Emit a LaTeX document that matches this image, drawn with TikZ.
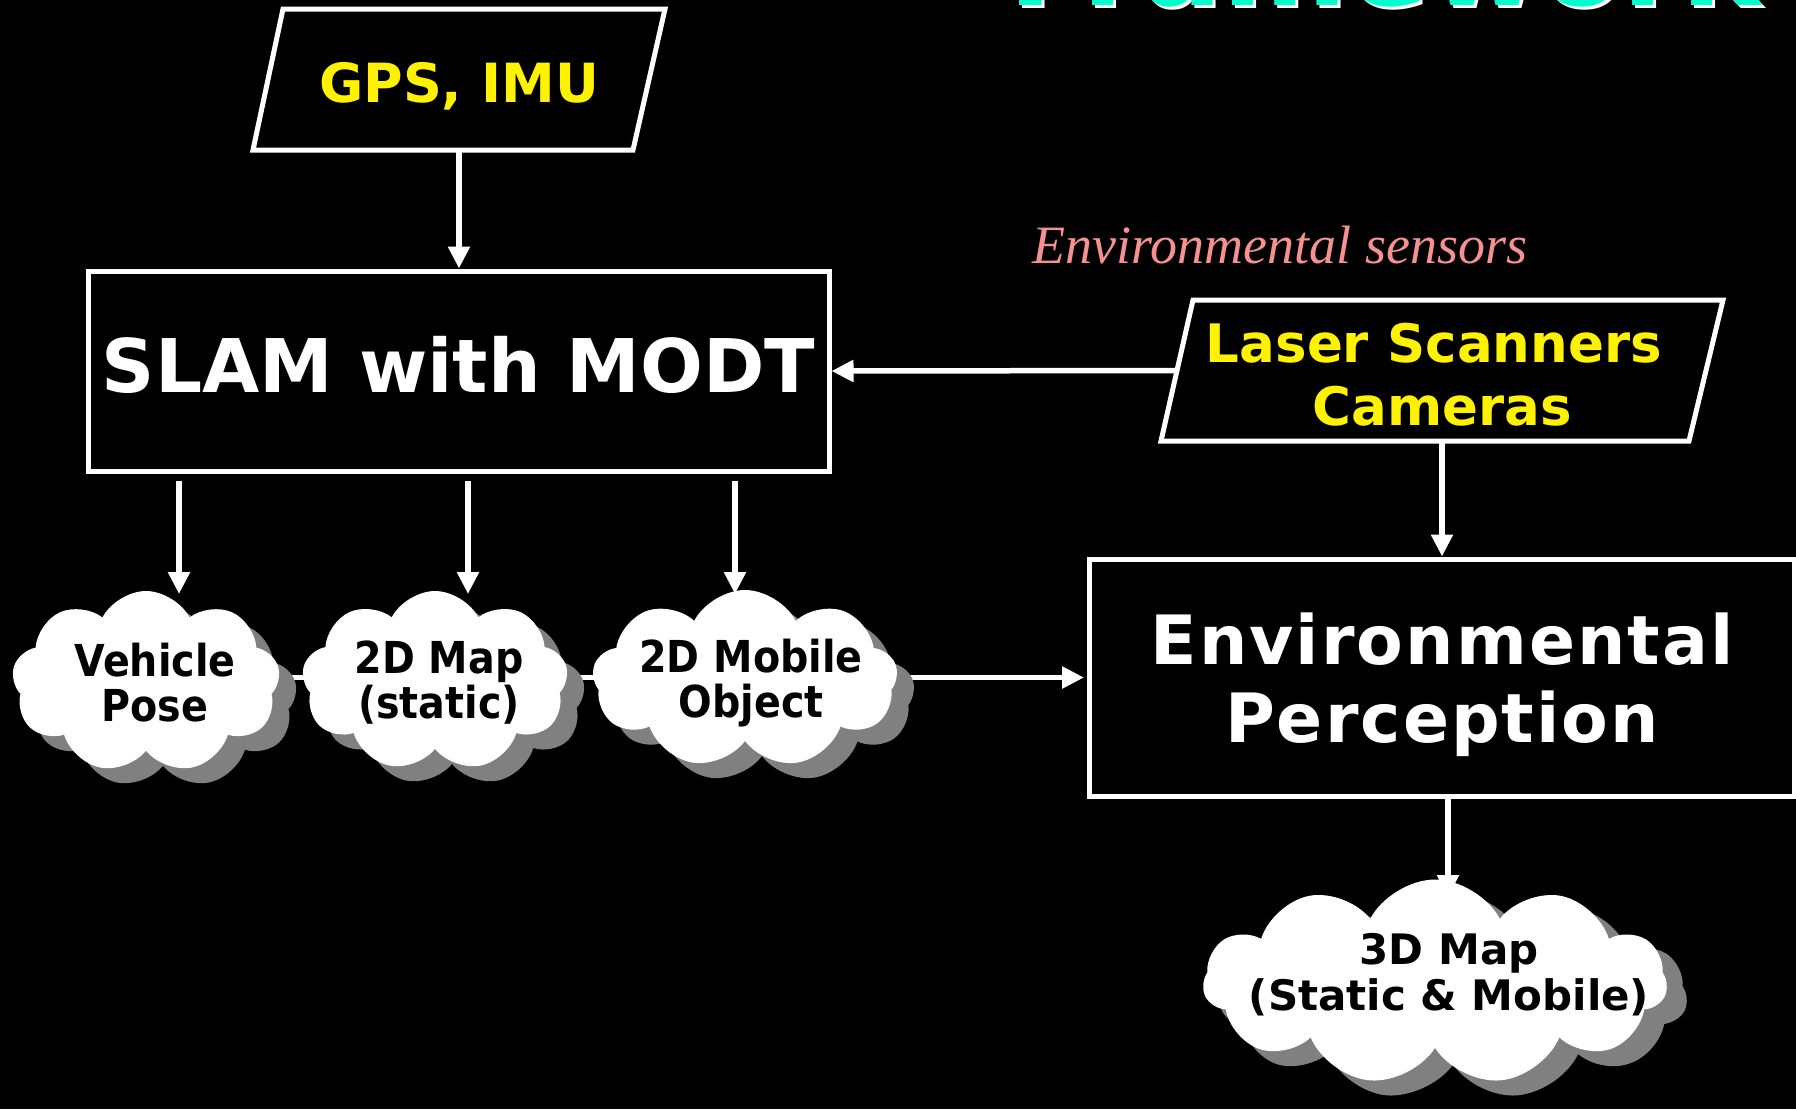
\documentclass[tikz,border=0pt]{standalone}
\usepackage{fontspec}
\setmainfont{DejaVu Sans}
\newfontfamily\labfont[FakeStretch=0.9]{DejaVu Sans}
\newfontfamily\widefont[LetterSpace=3]{DejaVu Sans}
\newfontfamily\serifit{Liberation Serif}
\usetikzlibrary{arrows.meta,shapes.symbols,shadows,calc}
\definecolor{salmon}{RGB}{245,145,145}
\definecolor{titlecyan}{RGB}{0,255,204}
\definecolor{shadowgray}{RGB}{128,128,128}
\pgfdeclarelayer{bgfill}
\pgfdeclarelayer{lines}
\pgfsetlayers{bgfill,lines,main}
\begin{document}
\begin{tikzpicture}[x=1pt,y=-1pt,
  arr/.style={draw=white, line width=5.5pt, -{Triangle[length=22pt,width=21pt]}},
  boxw/.style={draw=white, line width=5pt, fill=black, rectangle, inner sep=0pt},
  para/.style={draw=white, line width=5pt, fill=black},
  cloudw/.style={cloud, cloud puffs=9, cloud puff arc=125, cloud ignores aspect,
    fill=white, draw=none, inner sep=0pt,
    copy shadow={shadow xshift=17pt, shadow yshift=-15pt, fill=shadowgray, draw=none}},
  cloudtext/.style={text=black, align=center, inner sep=0pt},
]
\useasboundingbox (0,0) rectangle (1796,1109);
\begin{pgfonlayer}{bgfill}
\fill[black] (0,0) rectangle (1796,1109);
\end{pgfonlayer}

% title fragment
\node[anchor=base west, inner sep=0pt, text=white, font=\bfseries\fontsize{120}{120}\selectfont] (titlesh) at (1011,8) {Framework};
\node[anchor=base west, inner sep=0pt, text=titlecyan, font=\bfseries\fontsize{120}{120}\selectfont] (title) at (1008,5) {Framework};

% GPS
\draw[para] (283,9) -- (665,9) -- (633,150) -- (253,150) -- cycle;
\node[minimum width=350pt, minimum height=141pt, inner sep=0pt, text=yellow,
  font=\bfseries\fontsize{54}{60}\selectfont] (gps) at (459,80) {};
\node[anchor=base, inner sep=0pt, text=yellow, font=\bfseries\fontsize{54}{60}\selectfont] (gpst) at (459,102) {GPS, IMU};

% SLAM
\node[boxw, minimum width=741pt, minimum height=200pt] (slam) at (458.5,371) {};
\node[anchor=base, inner sep=0pt, text=white, font=\bfseries\fontsize{74}{80}\selectfont] (slamt) at (458.5,392) {SLAM with MODT};

% Environmental sensors label
\node[anchor=base, inner sep=0pt, text=salmon, font=\serifit\itshape\fontsize{54}{60}\selectfont] (envs) at (1280,263) {Environmental sensors};

% Laser
\draw[para] (1193,300) -- (1723,300) -- (1689,441) -- (1161,441) -- cycle;
\node[minimum width=529pt, minimum height=141pt, inner sep=0pt] (laser) at (1442,370.5) {};
\node[anchor=base, inner sep=0pt, text=yellow, font=\bfseries\fontsize{53}{63}\selectfont] (laser1) at (1434,362) {Laser Scanners};
\node[anchor=base, inner sep=0pt, text=yellow, font=\bfseries\fontsize{53}{63}\selectfont] (laser2) at (1442,425) {Cameras};

% Environmental Perception
\node[boxw, minimum width=705pt, minimum height=237pt] (ep) at (1441.5,677.5) {};
\node[anchor=base, inner sep=0pt, text=white, font=\widefont\bfseries\fontsize{68}{78}\selectfont] (ept1) at (1442,664) {Environmental};
\node[anchor=base, inner sep=0pt, text=white, font=\widefont\bfseries\fontsize{68}{78}\selectfont] (ept2) at (1442,742) {Perception};

% clouds
\node[cloudw, minimum width=268pt, minimum height=182pt] (vp) at (146,682) {};
\node[cloudtext, font=\labfont\bfseries\fontsize{44}{45}\selectfont] (vpt) at (155,683) {Vehicle\\Pose};
\node[cloudw, minimum width=266pt, minimum height=180pt] (map2) at (435,681) {};
\node[cloudtext, font=\labfont\bfseries\fontsize{44}{45}\selectfont] (map2t) at (439,683) {2D Map\\(static)};
\node[cloudw, minimum width=305pt, minimum height=178pt] (mob) at (745,679) {};
\node[cloudtext, font=\labfont\bfseries\fontsize{44}{45}\selectfont] (mobt) at (751,683) {2D Mobile\\Object};
\node[cloudw, cloud puffs=11, minimum width=464pt, minimum height=205pt,
  copy shadow={shadow xshift=20pt, shadow yshift=-14pt, fill=shadowgray, draw=none}] (m3) at (1435,982) {};
\node[cloudtext, font=\bfseries\fontsize{42}{46}\selectfont] (m3t) at (1449,975) {3D Map\\(Static \& Mobile)};

% line behind clouds
\begin{pgfonlayer}{lines}
\draw[arr] (vp.center |- ep.west) -- ([xshift=-2.5pt]ep.west);
\end{pgfonlayer}

% connectors
\coordinate (t1) at (179,594);
\coordinate (t2) at (468,594);
\coordinate (t3) at (735,594);
\coordinate (t4) at (1448,897);
\draw[arr] (gps.south) -- (gps.south |- slam.north);
\draw[arr] (laser.west) -- (slam.east);
\draw[arr] (t1 |- slam.south) ++(0,7) -- (t1);
\draw[arr] (t2 |- slam.south) ++(0,7) -- (t2);
\draw[arr] (t3 |- slam.south) ++(0,7) -- (t3);
\draw[arr] (laser.south) -- (laser.south |- ep.north);
\draw[arr] (t4 |- ep.south) -- (t4);
\end{tikzpicture}
\end{document}
